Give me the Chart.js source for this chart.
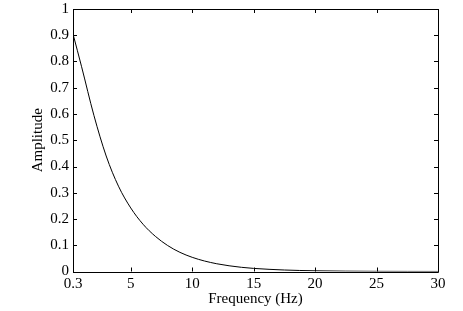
<!DOCTYPE html>
<html>
<head>
<meta charset="utf-8">
<script src="https://cdn.jsdelivr.net/npm/chart.js@4/dist/chart.umd.min.js"></script>
<style>
  html, body { margin: 0; padding: 0; background: #fff; }
  canvas { display: block; }
</style>
</head>
<body>
<canvas id="amp" width="463" height="311"></canvas>
<script>
// values
const freq = [0.3, 1, 2, 3, 4, 5, 6, 7, 8, 9, 10, 11, 12, 13, 14, 15, 17.5, 20, 22.5, 25, 27.5, 30]
const amplitude = [0.905, 0.78, 0.595, 0.44, 0.325, 0.242, 0.18, 0.134, 0.099, 0.073, 0.054, 0.04, 0.0295, 0.0218, 0.016, 0.0118, 0.0057, 0.0027, 0.0013, 0.0006, 0.0003, 0.00015]
const xTicks = [0.3, 5, 10, 15, 20, 25, 30]
const yTicks = [0, 0.1, 0.2, 0.3, 0.4, 0.5, 0.6, 0.7, 0.8, 0.9, 1]

const serif = "'Liberation Serif', 'DejaVu Serif', serif"

// box round the plot with short ticks pointing inwards, like matlab
const boxTicks = {
  id: 'boxTicks',
  afterDraw(chart) {
    const {ctx, chartArea: a, scales: {x, y}} = chart
    const len = 4
    ctx.save()
    ctx.strokeStyle = '#000'
    ctx.lineWidth = 1
    ctx.beginPath()
    ctx.rect(Math.round(a.left) + 0.5, Math.round(a.top) + 0.5, Math.round(a.right - a.left), Math.round(a.bottom - a.top))
    x.ticks.forEach(t => {
      const px = Math.round(x.getPixelForValue(t.value)) + 0.5
      ctx.moveTo(px, a.bottom); ctx.lineTo(px, a.bottom - len)
      ctx.moveTo(px, a.top); ctx.lineTo(px, a.top + len)
    })
    y.ticks.forEach(t => {
      const py = Math.round(y.getPixelForValue(t.value)) + 0.5
      ctx.moveTo(a.left, py); ctx.lineTo(a.left + len, py)
      ctx.moveTo(a.right, py); ctx.lineTo(a.right - len, py)
    })
    ctx.stroke()
    ctx.restore()
  }
}

new Chart('amp', {
  type: 'line',
  data: {
    datasets: [{
      data: freq.map((f, i) => ({x: f, y: amplitude[i]})),
      borderColor: '#000',
      borderWidth: 1,
      pointRadius: 0,
      fill: false,
      cubicInterpolationMode: 'monotone'
    }]
  },
  options: {
    responsive: false,
    animation: false,
    layout: { padding: { left: 0, top: 9, right: 25, bottom: 0 } },
    plugins: { legend: { display: false }, tooltip: { enabled: false } },
    scales: {
      x: {
        type: 'linear',
        min: 0.3,
        max: 30,
        afterBuildTicks: s => { s.ticks = xTicks.map(v => ({value: v})) },
        afterFit: s => { s.height = 39.5; s.paddingLeft = 0; s.paddingRight = 0 },
        grid: { display: false, drawTicks: false },
        border: { display: false },
        ticks: { color: '#000', padding: 4, maxRotation: 0, autoSkip: false,
                 font: { family: serif, size: 15 }, callback: v => String(v) },
        title: { display: true, text: 'Frequency (Hz)', color: '#000',
                 font: { family: serif, size: 15 }, padding: { top: 0, bottom: 3 } }
      },
      y: {
        min: 0,
        max: 1,
        afterBuildTicks: s => { s.ticks = yTicks.map(v => ({value: v})) },
        afterFit: s => { s.width = 73; s.paddingTop = 0; s.paddingBottom = 0 },
        grid: { display: false, drawTicks: false },
        border: { display: false },
        ticks: { color: '#000', padding: 4, autoSkip: false,
                 font: { family: serif, size: 15 }, callback: v => String(v) },
        title: { display: true, text: 'Amplitude', color: '#000',
                 font: { family: serif, size: 15 }, padding: { top: 29, bottom: 0 } }
      }
    }
  },
  plugins: [boxTicks]
})
</script>
</body>
</html>
